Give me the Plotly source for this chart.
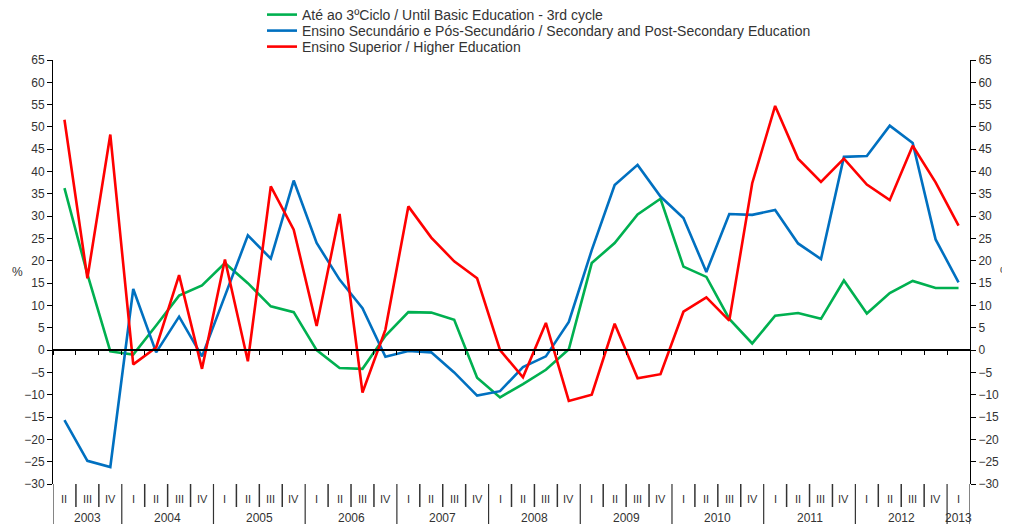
import plotly.graph_objects as go

quarters = (["II", "III", "IV"] + ["I", "II", "III", "IV"] * 9 + ["I"])
years = ["2003", "2004", "2005", "2006", "2007", "2008", "2009", "2010", "2011", "2012", "2013"]
year_quarters = [3] + [4] * 9 + [1]

basic = [36.3, 17.0, -0.3, -1.0, 5.5, 12.2, 14.5, 19.5, 15.0, 9.8,
         8.5, 0.0, -4.0, -4.2, 3.2, 8.5, 8.4, 6.8, -6.2, -10.6,
         -7.6, -4.4, 0.2, 19.5, 24.0, 30.4, 33.9, 18.7, 16.4, 7.0,
         1.5, 7.7, 8.3, 7.0, 15.6, 8.2, 12.8, 15.5, 13.9, 13.9]
secondary = [-15.7, -24.8, -26.2, 13.7, -0.5, 7.5, -1.4, 12.0, 25.7, 20.5,
             38.0, 24.0, 15.8, 9.4, -1.5, -0.2, -0.5, -5.0, -10.2, -9.2,
             -3.8, -1.4, 6.3, 22.4, 37.0, 41.5, 34.4, 29.6, 17.5, 30.5,
             30.3, 31.4, 23.9, 20.4, 43.3, 43.5, 50.3, 46.4, 24.8, 15.2]
higher = [51.6, 16.1, 48.3, -3.2, 0.6, 16.8, -4.2, 20.3, -2.5, 36.7,
          27.0, 5.4, 30.5, -9.5, 4.6, 32.2, 25.2, 19.9, 16.1, 0.0,
          -6.1, 6.1, -11.4, -10.0, 5.9, -6.3, -5.4, 8.6, 11.8, 6.6,
          37.4, 54.7, 42.9, 37.7, 42.9, 37.1, 33.6, 45.8, 37.6, 27.9]

names = ["Até ao 3ºCiclo / Until Basic Education - 3rd cycle",
         "Ensino Secundário e Pós-Secundário / Secondary and Post-Secondary Education",
         "Ensino Superior / Higher Education"]
colors = ["#00B050", "#0070C0", "#FF0000"]

# page body has an 8px margin; the figure div starts at (8, 8)
OFF = 8
W, H = 1010 - OFF, 524 - OFF
L, T = 53 - OFF, 60 - OFF
PW, PH = 917, 424
R, B = W - L - PW, H - T - PH

x = list(range(len(quarters)))
YMIN, YMAX = -30, 65
FONT = "Liberation Sans, Arial, sans-serif"
TXT = "#333333"

fig = go.Figure()
legend_ids = ["legend", "legend2", "legend3"]
for series, name, col, lg in zip([basic, secondary, higher], names, colors, legend_ids):
    fig.add_trace(go.Scatter(x=x, y=series, mode="lines", name=name, legend=lg,
                             line=dict(color=col, width=2.6), hoverinfo="skip"))
# dummy trace for right axis
fig.add_trace(go.Scatter(x=[None], y=[None], yaxis="y2", showlegend=False, hoverinfo="skip"))

boundaries = [i + 0.5 for i in range(-1, len(quarters))]

def leg(row_y):
    return dict(xref="container", yref="container", x=(262 - OFF) / W, xanchor="left",
                y=1 - (row_y - OFF) / H, yanchor="middle", font=dict(size=14, color=TXT),
                bgcolor="rgba(0,0,0,0)", itemwidth=30, borderwidth=0)

fig.update_layout(
    width=W, height=H,
    margin=dict(l=L, r=R, t=T, b=B, autoexpand=False),
    paper_bgcolor="white", plot_bgcolor="white",
    font=dict(family=FONT, size=12, color=TXT),
    showlegend=True,
    legend=leg(15), legend2=leg(31), legend3=leg(47),
    xaxis=dict(range=[-0.5, len(quarters) - 0.5], anchor="free",
               position=(0 - YMIN) / (YMAX - YMIN),
               showline=True, linecolor="black", linewidth=1.5,
               tickmode="array", tickvals=boundaries, ticks="outside", ticklen=4,
               tickcolor="black", showticklabels=False, showgrid=False, zeroline=False,
               automargin=False),
    yaxis=dict(range=[YMIN, YMAX], dtick=5, tick0=0, showline=True, linecolor="black",
               linewidth=1, ticks="outside", ticklen=5, tickcolor="black",
               showgrid=False, zeroline=False, tickfont=dict(size=12, color=TXT),
               automargin=False),
    yaxis2=dict(range=[YMIN, YMAX], dtick=5, tick0=0, overlaying="y", side="right",
                showline=True, linecolor="black", linewidth=1, ticks="outside",
                ticklen=5, tickcolor="black", showgrid=False, zeroline=False,
                tickfont=dict(size=12, color=TXT), automargin=False),
)

shapes = []
annotations = []
year_starts = []
idx = 0
for n in year_quarters:
    year_starts.append(idx)
    idx += n
for i, q in enumerate(quarters):
    annotations.append(dict(x=i, y=0, xref="x", yref="paper", text=q, showarrow=False,
                            yanchor="top", yshift=-7, font=dict(size=11, color=TXT)))
for b in boundaries:
    is_year = (b + 0.5) in year_starts or b == len(quarters) - 0.5
    y1 = -50 / PH if is_year else -23 / PH
    shapes.append(dict(type="line", xref="x", yref="paper", x0=b, x1=b, y0=0, y1=y1,
                       line=dict(color="#333333", width=1.5 if not is_year else 1.2)))
for yr, s, n in zip(years, year_starts, year_quarters):
    annotations.append(dict(x=s + (n - 1) / 2, y=0, xref="x", yref="paper", text=yr,
                            showarrow=False, yanchor="top", yshift=-25,
                            font=dict(size=12, color=TXT)))
annotations += [
    dict(x=(10 - 53) / PW, y=(484 - 272) / PH, xref="paper", yref="paper", text="%",
         showarrow=False, xanchor="left", font=dict(size=12, color=TXT)),
    dict(x=(998 - 53) / PW, y=(484 - 272) / PH, xref="paper", yref="paper", text="%",
         showarrow=False, xanchor="left", font=dict(size=12, color=TXT)),
]

fig.update_layout(shapes=shapes, annotations=annotations)
fig.write_html("out.html")
